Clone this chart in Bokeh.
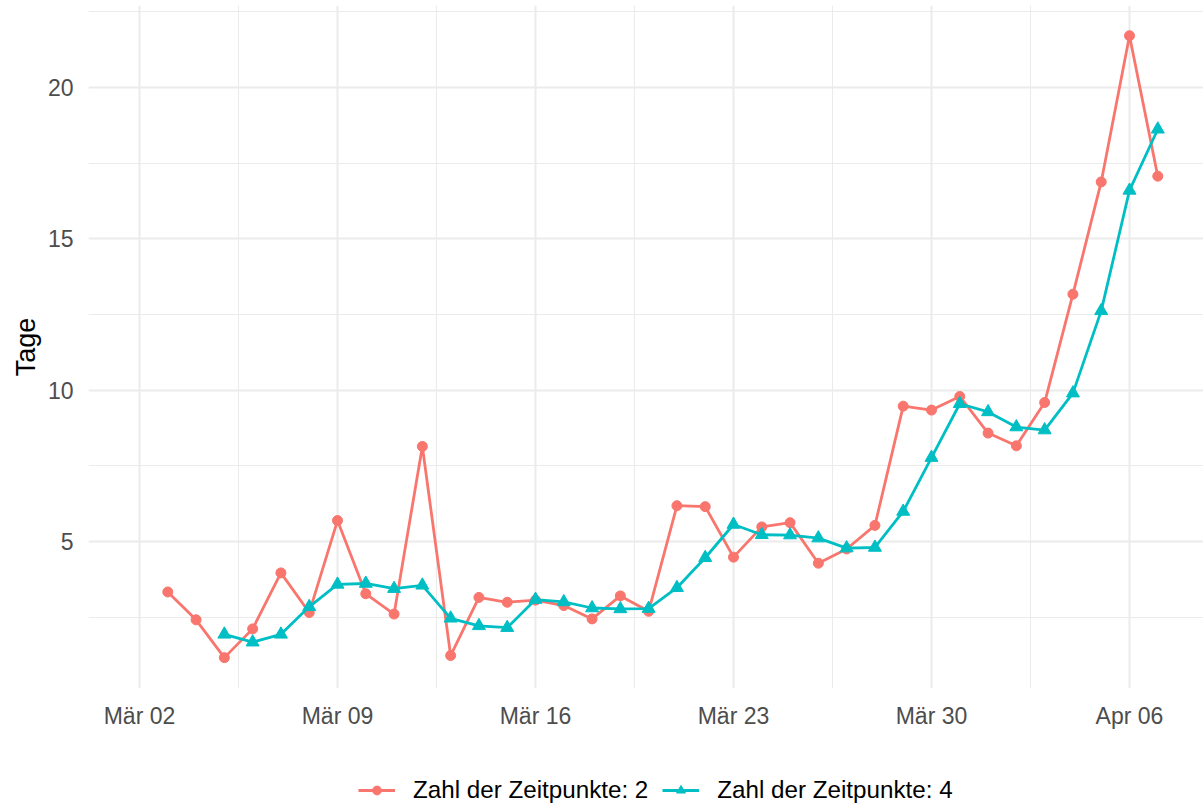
import pandas as pd
from bokeh.plotting import figure
from bokeh.layouts import column
from bokeh.models import Range1d, FixedTicker, CustomJSTickFormatter, Legend, LegendItem
from bokeh.embed import file_html
from bokeh.resources import INLINE

# ---------------- data ----------------
dates_2 = pd.date_range("2020-03-03", "2020-04-07", freq="D")
dates_4 = pd.date_range("2020-03-05", "2020-04-07", freq="D")

tage_2 = [3.33, 2.41, 1.16, 2.11, 3.96, 2.65, 5.69, 3.27, 2.60, 8.14, 1.23, 3.15,
          2.99, 3.06, 2.88, 2.44, 3.20, 2.69, 6.18, 6.15, 4.48, 5.48, 5.62, 4.28,
          4.75, 5.53, 9.47, 9.34, 9.79, 8.58, 8.16, 9.59, 13.17, 16.88, 21.71, 17.07]

tage_4 = [1.93, 1.67, 1.93, 2.84, 3.58, 3.61, 3.44, 3.55, 2.46, 2.21, 2.15, 3.08,
          3.00, 2.80, 2.77, 2.78, 3.47, 4.46, 5.56, 5.22, 5.21, 5.11, 4.78, 4.80,
          5.99, 7.77, 9.55, 9.28, 8.78, 8.68, 9.90, 12.62, 16.60, 18.62]

series_names = ["Zahl der Zeitpunkte: 2", "Zahl der Zeitpunkte: 4"]

tick_dates = ["2020-03-02", "2020-03-09", "2020-03-16", "2020-03-23", "2020-03-30", "2020-04-06"]
tick_labels = ["Mär 02", "Mär 09", "Mär 16", "Mär 23", "Mär 30", "Apr 06"]
minor_tick_dates = ["2020-03-05 12:00", "2020-03-12 12:00", "2020-03-19 12:00",
                    "2020-03-26 12:00", "2020-04-02 12:00"]
y_ticks = [5, 10, 15, 20]
y_minor_ticks = [2.5, 7.5, 12.5, 17.5, 22.5]

# ---------------- style ----------------
RED = "#F8766D"
TEAL = "#00BFC4"
GRID = "#EBEBEB"
FONT = "Liberation Sans"
DAY = 86400000.0
LW = 2.8


def ms(s):
    return pd.Timestamp(s).value / 1e6


tick_ms = [ms(d) for d in tick_dates]
minor_ms = [ms(d) for d in minor_tick_dates]

px_per_day = 198.0 / 7.0
x_start = ms("2020-03-02") - 51.0 / px_per_day * DAY
x_end = x_start + 1115.0 / px_per_day * DAY

p = figure(width=1203, height=740, x_axis_type="datetime",
           x_range=Range1d(x_start, x_end), y_range=Range1d(0.14, 22.71),
           output_backend="svg", toolbar_location=None,
           min_border_left=88, min_border_right=0, min_border_top=5, min_border_bottom=52)

p.outline_line_color = None
p.background_fill_color = "white"
p.border_fill_color = "white"

# ticks / grid
xt = FixedTicker(ticks=tick_ms, minor_ticks=minor_ms)
yt = FixedTicker(ticks=y_ticks, minor_ticks=y_minor_ticks)
p.xaxis.ticker = xt
p.yaxis.ticker = yt
p.xgrid.ticker = xt
p.ygrid.ticker = yt
for g in (p.xgrid, p.ygrid):
    g.grid_line_color = GRID
    g.grid_line_width = 2.0
    g.minor_grid_line_color = GRID
    g.minor_grid_line_width = 1.1

p.xaxis.formatter = CustomJSTickFormatter(
    args=dict(tick_vals=tick_ms, tick_names=tick_labels),
    code="""
for (let i = 0; i < tick_vals.length; i++) {
  if (Math.abs(tick_vals[i] - tick) < 1000) { return tick_names[i]; }
}
return "";
""")

for ax in (p.xaxis, p.yaxis):
    ax.axis_line_color = None
    ax.major_tick_line_color = None
    ax.minor_tick_line_color = None
    ax.major_tick_out = 0
    ax.major_tick_in = 0
    ax.major_label_text_font = FONT
    ax.major_label_text_font_size = "23px"
    ax.major_label_text_color = "#4D4D4D"
p.xaxis.major_label_standoff = 10
p.yaxis.major_label_standoff = 11

p.yaxis.axis_label = "Tage"
p.yaxis.axis_label_text_font = FONT
p.yaxis.axis_label_text_font_size = "27px"
p.yaxis.axis_label_text_font_style = "normal"
p.yaxis.axis_label_text_color = "black"
p.yaxis.axis_label_standoff = 4

# ---------------- series ----------------
p.line(dates_2, tage_2, line_color=RED, line_width=LW, line_join="round")
p.scatter(dates_2, tage_2, marker="circle", size=10, fill_color=RED, line_color=RED)
p.line(dates_4, tage_4, line_color=TEAL, line_width=LW, line_join="round")
p.scatter(dates_4, tage_4, marker="triangle", size=13, fill_color=TEAL, line_color=TEAL)

# ---------------- legend (separate strip below the plot) ----------------
# the key glyphs reuse the series, drawn far outside this strip's visible range
pl = figure(width=1203, height=64, x_axis_type="datetime",
            x_range=Range1d(x_start, x_end), y_range=Range1d(-20, -19),
            output_backend="svg", toolbar_location=None,
            x_axis_location=None, y_axis_location=None,
            min_border_left=0, min_border_right=0, min_border_top=0, min_border_bottom=0)
pl.outline_line_color = None
pl.xgrid.visible = False
pl.ygrid.visible = False
pl.background_fill_color = "white"
pl.border_fill_color = "white"

k2l = pl.line(dates_2, tage_2, line_color=RED, line_width=LW)
k2s = pl.scatter(dates_2, tage_2, marker="circle", size=10, fill_color=RED, line_color=RED)
k4l = pl.line(dates_4, tage_4, line_color=TEAL, line_width=LW)
k4s = pl.scatter(dates_4, tage_4, marker="triangle", size=13, fill_color=TEAL, line_color=TEAL)

legend = Legend(items=[LegendItem(label=series_names[0], renderers=[k2l, k2s]),
                       LegendItem(label=series_names[1], renderers=[k4l, k4s])],
                orientation="horizontal", location=(270, 0))
legend.border_line_color = None
legend.background_fill_alpha = 0
legend.padding = 0
legend.margin = 0
legend.spacing = 14
legend.glyph_width = 37
legend.glyph_height = 22
legend.label_standoff = 18
legend.label_height = 22
legend.label_text_font = FONT
legend.label_text_font_size = "24.2px"
legend.label_text_color = "black"
pl.add_layout(legend)

open("out.html", "w").write(file_html(column(p, pl, spacing=0), INLINE))
